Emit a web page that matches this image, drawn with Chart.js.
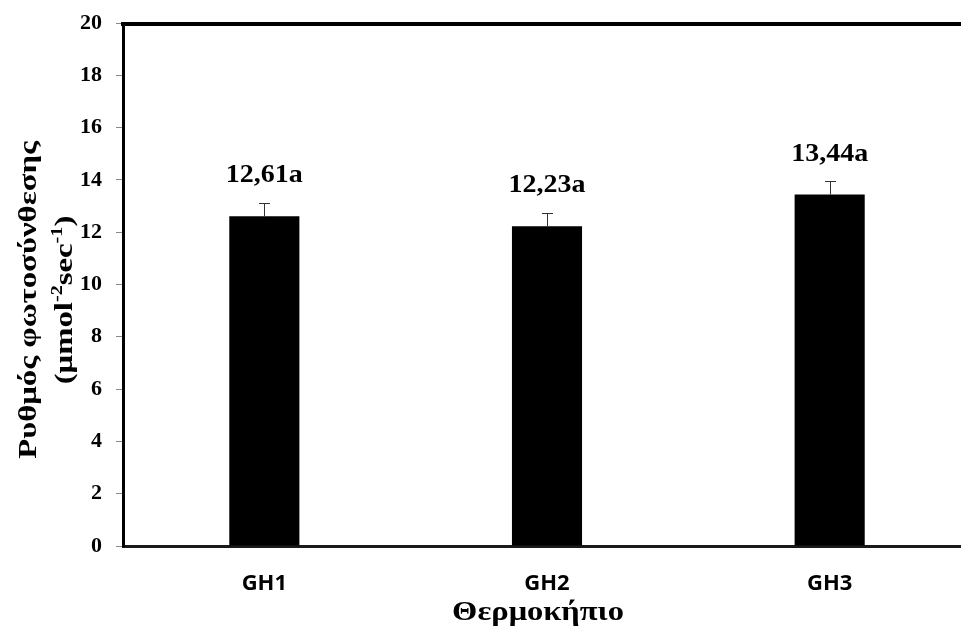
<!DOCTYPE html>
<html>
<head>
<meta charset="utf-8">
<script src="https://cdn.jsdelivr.net/npm/chart.js@4.4.1/dist/chart.umd.min.js"></script>
<style>
html,body{margin:0;padding:0;background:#fff;overflow:hidden;width:961px;height:638px;}
canvas{display:block;}
</style>
</head>
<body>
<canvas id="c" width="971" height="638"></canvas>
<script>
const categories = ['GH1', 'GH2', 'GH3'];
const values = [12.61, 12.23, 13.44];
const errors = [0.5, 0.5, 0.5];
const valueLabels = ['12,61a', '12,23a', '13,44a'];
const yMin = 0, yMax = 20, yStep = 2;
const xTitle = 'Θερμοκήπιο';
const yTitleLine1 = 'Ρυθμός φωτοσύνθεσης';

const SERIF = '"Liberation Serif","Times New Roman",serif';

function stretchedText(ctx, text, x, y, sx) {
  ctx.save();
  ctx.translate(x, y);
  ctx.scale(sx, 1);
  ctx.fillText(text, 0, 0);
  ctx.restore();
}

const overlay = {
  id: 'overlay',
  afterDatasetsDraw(chart) {
    const ctx = chart.ctx;
    const ys = chart.scales.y;
    const meta = chart.getDatasetMeta(0);
    ctx.save();
    meta.data.forEach((bar, i) => {
      const x = bar.x;
      const top = ys.getPixelForValue(values[i]);
      const et = ys.getPixelForValue(values[i] + errors[i]);
      ctx.strokeStyle = '#333';
      ctx.lineWidth = 1;
      ctx.beginPath();
      ctx.moveTo(Math.round(x) + 0.5, top);
      ctx.lineTo(Math.round(x) + 0.5, Math.round(et) + 0.5);
      ctx.moveTo(Math.round(x) - 5, Math.round(et) + 0.5);
      ctx.lineTo(Math.round(x) + 6, Math.round(et) + 0.5);
      ctx.stroke();
      ctx.fillStyle = '#000';
      ctx.font = 'bold 25px ' + SERIF;
      ctx.textAlign = 'center';
      ctx.textBaseline = 'alphabetic';
      stretchedText(ctx, valueLabels[i], x, top - 34, 1.12);
    });
    ctx.restore();
  },
  afterDraw(chart) {
    const ctx = chart.ctx;
    const a = chart.chartArea;
    ctx.save();
    // top frame line
    ctx.fillStyle = '#000';
    ctx.fillRect(a.left - 2, a.top - 1, chart.width - a.left + 2, 4);
    // x title
    ctx.fillStyle = '#000';
    ctx.font = 'bold 28px ' + SERIF;
    ctx.textAlign = 'center';
    ctx.textBaseline = 'alphabetic';
    stretchedText(ctx, xTitle, 538, 620, 1.16);
    // y title (rotated)
    ctx.translate(0, 300);
    ctx.rotate(-Math.PI / 2);
    const SX = 1.26;
    ctx.font = 'bold 26px ' + SERIF;
    ctx.textAlign = 'center';
    stretchedText(ctx, yTitleLine1, 0, 36, SX);
    // second line with superscripts
    const parts = [['(μmol', false], ['-2', true], ['sec', false], ['-1', true], [')', false]];
    const base = 'bold 26px ' + SERIF, sup = 'bold 16px ' + SERIF;
    let w = 0;
    parts.forEach(p => { ctx.font = p[1] ? sup : base; w += ctx.measureText(p[0]).width; });
    ctx.save();
    ctx.scale(SX, 1);
    let cx = -w / 2;
    ctx.textAlign = 'left';
    parts.forEach(p => {
      ctx.font = p[1] ? sup : base;
      ctx.fillText(p[0], cx, p[1] ? 62 : 72);
      cx += ctx.measureText(p[0]).width;
    });
    ctx.restore();
    ctx.restore();
  }
};

new Chart(document.getElementById('c'), {
  type: 'bar',
  data: {
    labels: categories,
    datasets: [{
      data: values,
      backgroundColor: '#000',
      borderWidth: 0,
      barPercentage: 0.248,
      categoryPercentage: 1
    }]
  },
  options: {
    responsive: false,
    animation: false,
    devicePixelRatio: 1,
    layout: { padding: { top: 23, left: 0, right: 0, bottom: 0 } },
    plugins: { legend: { display: false }, tooltip: { enabled: false } },
    scales: {
      x: {
        grid: { display: false },
        border: { display: true, color: '#1a1a1a', width: 3 },
        ticks: { color: '#000', font: { family: '"Open Sans",sans-serif', size: 22, weight: 'bold' }, padding: 17 },
        afterFit(s) { s.height = 92; s.paddingLeft = 0; s.paddingRight = 0; }
      },
      y: {
        min: yMin, max: yMax,
        grid: { display: true, drawOnChartArea: false, drawTicks: true, tickLength: 7, color: '#888', lineWidth: 1 },
        border: { display: true, color: '#000', width: 3 },
        ticks: { stepSize: yStep, color: '#000', padding: 14, font: { family: SERIF, size: 22, weight: 'bold' } },
        afterFit(s) { s.width = 123; s.paddingTop = 0; s.paddingBottom = 0; }
      }
    }
  },
  plugins: [overlay]
});
</script>
</body>
</html>
